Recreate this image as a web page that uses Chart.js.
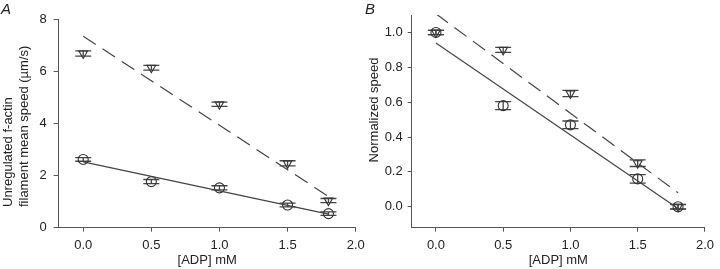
<!DOCTYPE html>
<html>
<head>
<meta charset="utf-8">
<script src="https://cdn.jsdelivr.net/npm/chart.js@4.4.0/dist/chart.umd.min.js"></script>
<style>
  html, body { margin: 0; padding: 0; background: #fff; }
  #wrap { position: relative; width: 720px; height: 269px; overflow: hidden; }
  #chartA { position: absolute; left: 0; top: 0; }
  #chartB { position: absolute; left: 360px; top: 0; }
</style>
</head>
<body>
<div id="wrap">
  <canvas id="chartA" width="372" height="269"></canvas>
  <canvas id="chartB" width="360" height="269"></canvas>
</div>
<script>
// shared x values ([ADP] mM)
const adp = [0, 0.5, 1.0, 1.5, 1.8];
const xTicks = [0, 0.5, 1.0, 1.5, 2.0];
const fitX = [0, 1.8];

// panel A: unregulated f-actin mean speed (um/s)
const speedA_tri = [6.69, 6.14, 4.74, 2.47, 1.04];
const errA_tri = [0.1, 0.09, 0.08, 0.1, 0.08];
const speedA_circ = [2.62, 1.77, 1.53, 0.87, 0.54];
const errA_circ = [0.07, 0.08, 0.08, 0.07, 0.07];
const fitA_tri = [7.35, 1.2];
const fitA_circ = [2.53, 0.52];
const yTicksA = [0, 2, 4, 6, 8];

// panel B: normalized speed
const normB_tri = [1.0, 0.9, 0.65, 0.25, 0.0];
const errB_tri = [0.012, 0.014, 0.018, 0.019, 0.012];
const normB_circ = [1.0, 0.58, 0.47, 0.16, 0.0];
const errB_circ = [0.012, 0.023, 0.022, 0.024, 0.014];
const fitB_tri = [1.107, 0.08];
const fitB_circ = [0.94, -0.01];
const yTicksB = [0, 0.2, 0.4, 0.6, 0.8, 1.0];

Chart.defaults.font.family = "'Liberation Sans', Arial, sans-serif";
Chart.defaults.font.size = 13;
Chart.defaults.color = "#222";

const markColor = "#333";
const axisColor = "#555";

function pts(xs, ys) {
  return xs.map((x, i) => ({ x: x, y: ys[i] }));
}

// vertical error bars with caps, drawn through the chart scales
const errorBars = {
  id: "errorBars",
  beforeDatasetsDraw(chart) {
    const ctx = chart.ctx;
    const xs = chart.scales.x, ys = chart.scales.y;
    ctx.save();
    ctx.strokeStyle = "#444";
    ctx.lineWidth = 1.3;
    chart.data.datasets.forEach((ds) => {
      if (!ds.errors) return;
      ds.data.forEach((p, i) => {
        const e = ds.errors[i];
        const px = xs.getPixelForValue(p.x);
        const top = ys.getPixelForValue(p.y + e);
        const bot = ys.getPixelForValue(p.y - e);
        ctx.beginPath();
        ctx.moveTo(px, top);
        ctx.lineTo(px, bot);
        ctx.moveTo(px - 8, top);
        ctx.lineTo(px + 8, top);
        ctx.moveTo(px - 8, bot);
        ctx.lineTo(px + 8, bot);
        ctx.stroke();
      });
    });
    ctx.restore();
  },
};

// panel letter and left axis title (lines start-aligned like the original)
const panelText = {
  id: "panelText",
  afterDraw(chart, args, opts) {
    const ctx = chart.ctx;
    ctx.save();
    ctx.fillStyle = "#222";
    ctx.font = "italic 15px 'Liberation Sans', Arial, sans-serif";
    ctx.textBaseline = "alphabetic";
    ctx.textAlign = "left";
    ctx.fillText(opts.letter, opts.letterX, 14);

    ctx.font = "13px 'Liberation Sans', Arial, sans-serif";
    ctx.textAlign = opts.align;
    opts.lines.forEach((line, i) => {
      ctx.save();
      ctx.translate(opts.lineX[i], opts.lineY);
      ctx.rotate(-Math.PI / 2);
      ctx.fillText(line, 0, 0);
      ctx.restore();
    });
    ctx.restore();
  },
};

function makeChart(id, cfg) {
  const ctx = document.getElementById(id).getContext("2d");
  return new Chart(ctx, {
    type: "scatter",
    data: {
      datasets: [
        {
          data: pts(fitX, cfg.fitTri),
          showLine: true,
          borderColor: "#444",
          borderWidth: 1.2,
          borderDash: [15, 8],
          pointRadius: 0,
        },
        {
          data: pts(fitX, cfg.fitCirc),
          showLine: true,
          borderColor: "#444",
          borderWidth: 1.2,
          pointRadius: 0,
        },
        {
          data: pts(adp, cfg.tri),
          errors: cfg.errTri,
          pointStyle: "triangle",
          rotation: 180,
          pointRadius: 5,
          pointBorderWidth: 1.1,
          pointBorderColor: markColor,
          pointBackgroundColor: "rgba(0,0,0,0)",
        },
        {
          data: pts(adp, cfg.circ),
          errors: cfg.errCirc,
          pointStyle: "circle",
          pointRadius: 5,
          pointBorderWidth: 1.1,
          pointBorderColor: markColor,
          pointBackgroundColor: "rgba(0,0,0,0)",
        },
      ],
    },
    options: {
      responsive: false,
      animation: false,
      events: [],
      layout: { padding: cfg.padding },
      plugins: {
        legend: { display: false },
        tooltip: { enabled: false },
        panelText: cfg.text,
      },
      scales: {
        x: {
          type: "linear",
          min: -0.18,
          max: 2.0,
          afterBuildTicks: (scale) => {
            scale.ticks = xTicks.map((v) => ({ value: v }));
          },
          afterFit: (scale) => {
            scale.height = 41.3;
          },
          ticks: {
            padding: 6,
            maxRotation: 0,
            callback: (v) => v.toFixed(1),
          },
          grid: { drawOnChartArea: false, tickLength: 4, color: axisColor },
          border: { color: axisColor },
          title: {
            display: true,
            text: "[ADP] mM",
            padding: { top: 0, bottom: 1 },
          },
        },
        y: {
          type: "linear",
          min: cfg.yMin,
          max: cfg.yMax,
          afterBuildTicks: (scale) => {
            scale.ticks = cfg.yTicks.map((v) => ({ value: v }));
          },
          afterFit: (scale) => {
            scale.width = cfg.yWidth;
          },
          ticks: {
            padding: cfg.yPad,
            callback: cfg.yFormat,
          },
          grid: { drawOnChartArea: false, tickLength: cfg.yTick, color: axisColor },
          border: { color: axisColor },
        },
      },
    },
    plugins: [errorBars, panelText],
  });
}

makeChart("chartA", {
  tri: speedA_tri,
  errTri: errA_tri,
  circ: speedA_circ,
  errCirc: errA_circ,
  fitTri: fitA_tri,
  fitCirc: fitA_circ,
  yMin: 0,
  yMax: 8,
  yTicks: yTicksA,
  yFormat: (v) => v.toFixed(0),
  yWidth: 58.7,
  yTick: 5,
  yPad: 7,
  padding: { top: 19.3, right: 16.3, left: 0, bottom: 0 },
  text: {
    letter: "A",
    letterX: 1,
    lines: ["Unregulated f-actin", "filament mean speed (\u00b5m/s)"],
    lineX: [12, 28],
    lineY: 207,
    align: "left",
  },
});

makeChart("chartB", {
  tri: normB_tri,
  errTri: errB_tri,
  circ: normB_circ,
  errCirc: errB_circ,
  fitTri: fitB_tri,
  fitCirc: fitB_circ,
  yMin: -0.12,
  yMax: 1.1,
  yTicks: yTicksB,
  yFormat: (v) => v.toFixed(1),
  yWidth: 51.7,
  yTick: 4,
  yPad: 5,
  padding: { top: 15, right: 10, left: 0, bottom: 0 },
  text: {
    letter: "B",
    letterX: 5,
    lines: ["Normalized speed"],
    lineX: [17.5],
    lineY: 110,
    align: "center",
  },
});
</script>
</body>
</html>
